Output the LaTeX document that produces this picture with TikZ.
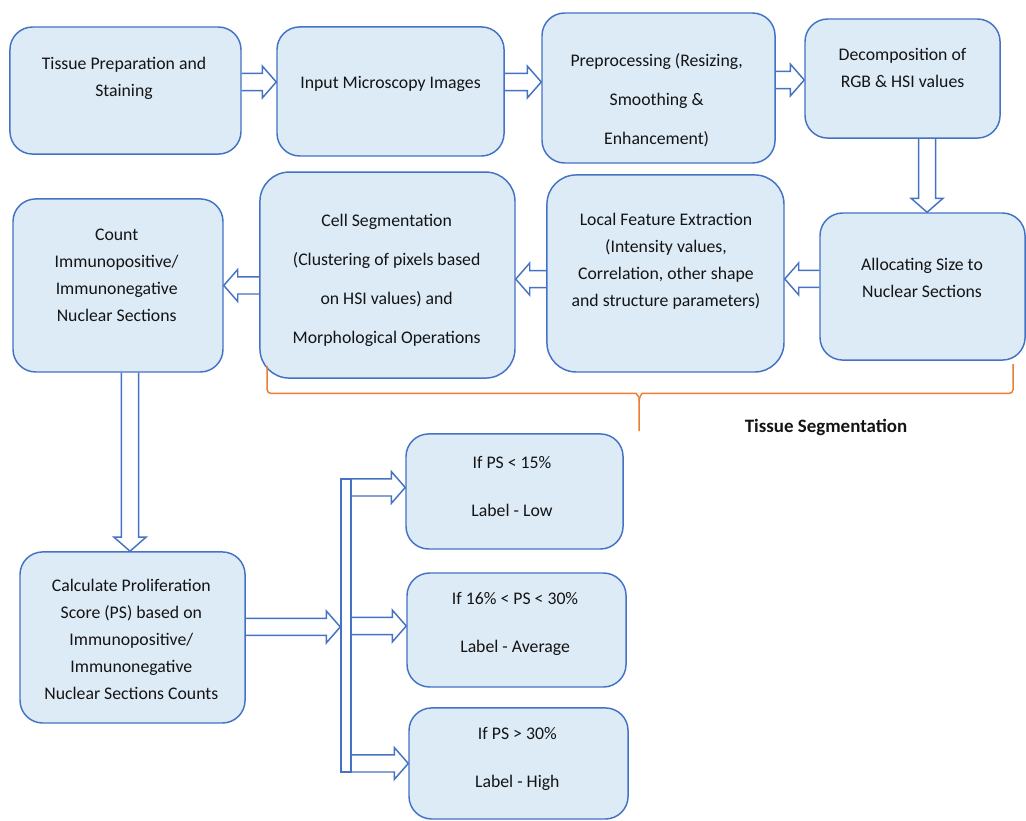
\documentclass[tikz,border=0pt]{standalone}
\usepackage{fontspec}
\setmainfont{Carlito}
\usepackage{tikz}
\definecolor{bc}{RGB}{221, 235, 247}
\definecolor{lc}{RGB}{68, 114, 196}
\definecolor{oc}{RGB}{237, 125, 49}
\usetikzlibrary{calc}

% hollow block arrow from tail point #1 to tip point #2
\newcommand{\blockarrow}[2]{%
  \coordinate (tl) at (#1);
  \coordinate (tp) at (#2);
  \coordinate (hb) at ($(tp)!10.5pt!(tl)$);
  \draw [arr] ($(tl)!6.4pt!90:(tp)$) -- ($(hb)!6.4pt!90:(tp)$) -- ($(hb)!12pt!90:(tp)$) -- (tp)
    -- ($(hb)!12pt!-90:(tp)$) -- ($(hb)!6.4pt!-90:(tp)$) -- ($(tl)!6.4pt!-90:(tp)$);
}

\begin{document}
\begin{tikzpicture}[
  box/.style={draw=lc, fill=bc, line width=1.1pt, rounded corners=17pt},
  txt/.style={align=center, inner sep=0pt, text=black!92, font=\fontsize{13.3pt}{20.25pt}\selectfont},
  wide/.style={font=\fontsize{13.3pt}{29.3pt}\selectfont},
  wider/.style={font=\fontsize{13.3pt}{36pt}\selectfont},
  arr/.style={draw=lc, line width=1.1pt, line join=miter},
  brace/.style={draw=oc, line width=1.1pt, rounded corners=3pt}]
\useasboundingbox (0pt, 0pt) rectangle (769.5pt, -615.75pt);

% boxes
\node (1) [box, minimum width=173.3pt, minimum height=95.3pt] at (94.1pt, -67.9pt) {};
\node (2) [box, minimum width=170.3pt, minimum height=96.8pt] at (292.9pt, -68.6pt) {};
\node (3) [box, minimum width=174.8pt, minimum height=112.5pt] at (493.9pt, -66.0pt) {};
\node (4) [box, minimum width=146.3pt, minimum height=89.3pt] at (676.9pt, -58.9pt) {};
\node (5) [box, minimum width=153.8pt, minimum height=110.3pt] at (691.9pt, -214.9pt) {};
\node (6) [box, rounded corners=22pt, minimum width=177.8pt, minimum height=147.8pt] at (499.1pt, -205.1pt) {};
\node (7) [box, rounded corners=22pt, minimum width=191.3pt, minimum height=154.5pt] at (290.6pt, -206.3pt) {};
\node (8) [box, minimum width=157.5pt, minimum height=129.8pt] at (88.5pt, -214.1pt) {};
\node (9) [box, minimum width=168.8pt, minimum height=128.3pt] at (99.4pt, -478.1pt) {};
\node (10) [box, minimum width=162.8pt, minimum height=86.3pt] at (385.9pt, -368.6pt) {};
\node (11) [box, minimum width=164.3pt, minimum height=85.5pt] at (387.4pt, -472.5pt) {};
\node (12) [box, minimum width=164.3pt, minimum height=83.3pt] at (388.9pt, -572.6pt) {};
\node (bus) [draw=lc, line width=1.1pt, inner sep=0pt, minimum width=7.5pt, minimum height=219.8pt] at (259.5pt, -469.1pt) {};

% texts
\node (t1) [txt] at (93.0pt, -58.9pt) {Tissue Preparation and\\Staining};
\node (t2) [txt] at (292.9pt, -63.0pt) {Input Microscopy Images};
\node (t3) [txt, wide] at (492.5pt, -75.0pt) {Preprocessing (Resizing,\\Smoothing \& \\Enhancement)};
\node (t4) [txt] at (676.9pt, -51.0pt) {Decomposition of\\RGB \& HSI values};
\node (t5) [txt] at (691.5pt, -208.1pt) {Allocating Size to\\Nuclear Sections};
\node (t6) [txt] at (499.5pt, -196.1pt) {Local Feature Extraction\\(Intensity values,\\Correlation, other shape\\and structure parameters)};
\node (t7) [txt, wide] at (290.0pt, -210.4pt) {Cell Segmentation\\(Clustering of pixels based\\on HSI values) and\\Morphological Operations};
\node (t8) [txt] at (87.5pt, -206.3pt) {Count\\Immunopositive/\\Immunonegative\\Nuclear Sections};
\node (t9) [txt] at (98.5pt, -479.3pt) {Calculate Proliferation\\Score (PS) based on\\Immunopositive/\\Immunonegative\\Nuclear Sections Counts};
\node (t10) [txt, wider] at (384.0pt, -364.5pt) {If PS < 15\%\\Label - Low};
\node (t11) [txt, wider] at (386.3pt, -468.0pt) {If 16\% < PS < 30\%\\Label - Average};
\node (t12) [txt, wider] at (388.0pt, -568.9pt) {If PS > 30\%\\Label - High};

% arrows
\coordinate (a1) at ($(2.west)+(0,7.1pt)$);
\blockarrow{1.east |- a1}{a1}
\coordinate (a2) at ($(3.west)+(0,4.5pt)$);
\blockarrow{2.east |- a2}{a2}
\coordinate (a3) at ($(4.west)+(0,-1.1pt)$);
\blockarrow{3.east |- a3}{a3}
\coordinate (a4) at ($(5.north)+(3.4pt,0)$);
\blockarrow{4.south -| a4}{a4}
\coordinate (a5) at ($(6.east)+(0,-4.1pt)$);
\blockarrow{5.west |- a5}{a5}
\coordinate (a6) at ($(7.east)+(0,-3pt)$);
\blockarrow{6.west |- a6}{a6}
\coordinate (a7) at (8.east);
\blockarrow{7.west |- a7}{a7}
\coordinate (a8) at ($(9.north)+(-1.9pt,0)$);
\blockarrow{8.south -| a8}{a8}
\coordinate (a9) at ($(bus.west)+(0,-1.1pt)$);
\blockarrow{9.east |- a9}{a9}
\coordinate (a10) at ($(10.west)+(0,3pt)$);
\blockarrow{bus.east |- a10}{a10}
\coordinate (a11) at ($(11.west)+(0,3pt)$);
\blockarrow{bus.east |- a11}{a11}
\coordinate (a12) at (12.west);
\blockarrow{bus.east |- a12}{a12}

% brace under the middle row
\draw [brace] (200.3pt, -274.5pt) -- (200.3pt, -295.1pt) -- (474.0pt, -295.1pt)
  to[out=0, in=90] (479.3pt, -301.0pt) -- (479.3pt, -323.3pt);
\draw [brace] (759.8pt, -273.0pt) -- (759.8pt, -295.1pt) -- (484.6pt, -295.1pt)
  to[out=180, in=90] (479.3pt, -301.0pt);
\node (seg) [txt, font=\fontsize{14.2pt}{17pt}\selectfont\bfseries] at (619.5pt, -320.3pt) {Tissue Segmentation};
\end{tikzpicture}
\end{document}
